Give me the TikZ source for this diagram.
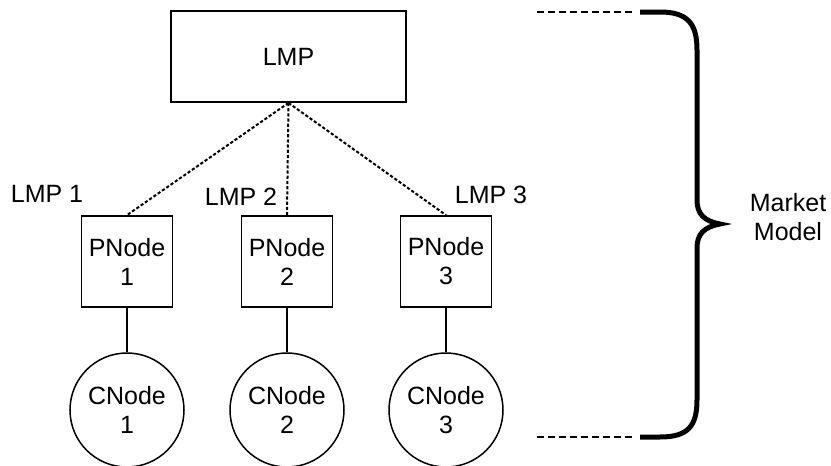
\documentclass[tikz,border=0pt]{standalone}
\usepackage{fontspec}
\setmainfont{Liberation Sans}
\begin{document}
\begin{tikzpicture}[x=0.5pt,y=-0.5pt,
  txt/.style={font=\fontsize{12.5}{14.5}\selectfont, align=center, inner sep=0pt},
  pbox/.style={draw, line width=0.9pt, minimum width=45.5pt, minimum height=45.5pt, txt},
  cnode/.style={draw, circle, line width=0.75pt, minimum size=57pt, txt},
  dotline/.style={line width=1pt, dash pattern=on 1.6pt off 1pt},
  dashline/.style={line width=1pt, dash pattern=on 3.5pt off 2pt},
  link/.style={line width=0.75pt}]
\useasboundingbox (0,0) rectangle (831,466);
\node[draw, line width=0.9pt, minimum width=117.5pt, minimum height=45.5pt, txt] (lmp) at (288.5,56.5) {LMP};
\node[pbox] (p1) at (127,261.5) {PNode\\1};
\node[pbox] (p2) at (287,261.5) {PNode\\2};
\node[pbox] (p3) at (446,261.5) {PNode\\3};
\node[cnode] (c1) at (127,410) {CNode\\1};
\node[cnode] (c2) at (287,410) {CNode\\2};
\node[cnode] (c3) at (446,410) {CNode\\3};
\node[txt] (l1) at (47,194) {LMP 1};
\node[txt] (l2) at (241,197) {LMP 2};
\node[txt] (l3) at (491,195) {LMP 3};
\node[txt] (mm) at (788,217) {Market\\Model};
\draw[dotline] (lmp.south) -- (p1.north);
\draw[dotline] (lmp.south) -- (p2.north);
\draw[dotline] (lmp.south) -- (p3.north);
\draw[link] (p1.south) -- (c1.north);
\draw[link] (p2.south) -- (c2.north);
\draw[link] (p3.south) -- (c3.north);
\coordinate (dt1) at (537,12);
\coordinate (dt2) at (632,12);
\coordinate (db1) at (537,437);
\coordinate (db2) at (632,437);
\draw[dashline] (dt1) -- (dt2);
\draw[dashline] (db1) -- (db2);
\draw[line width=2.5pt] (640,12) -- (660,12) .. controls (688,12) and (697,24) .. (697,50) -- (697,200)
  .. controls (697,214) and (704,221) .. (720,224)
  .. controls (704,227) and (697,234) .. (697,248) -- (697,400)
  .. controls (697,426) and (688,437) .. (660,437) -- (640,437);
\end{tikzpicture}
\end{document}
